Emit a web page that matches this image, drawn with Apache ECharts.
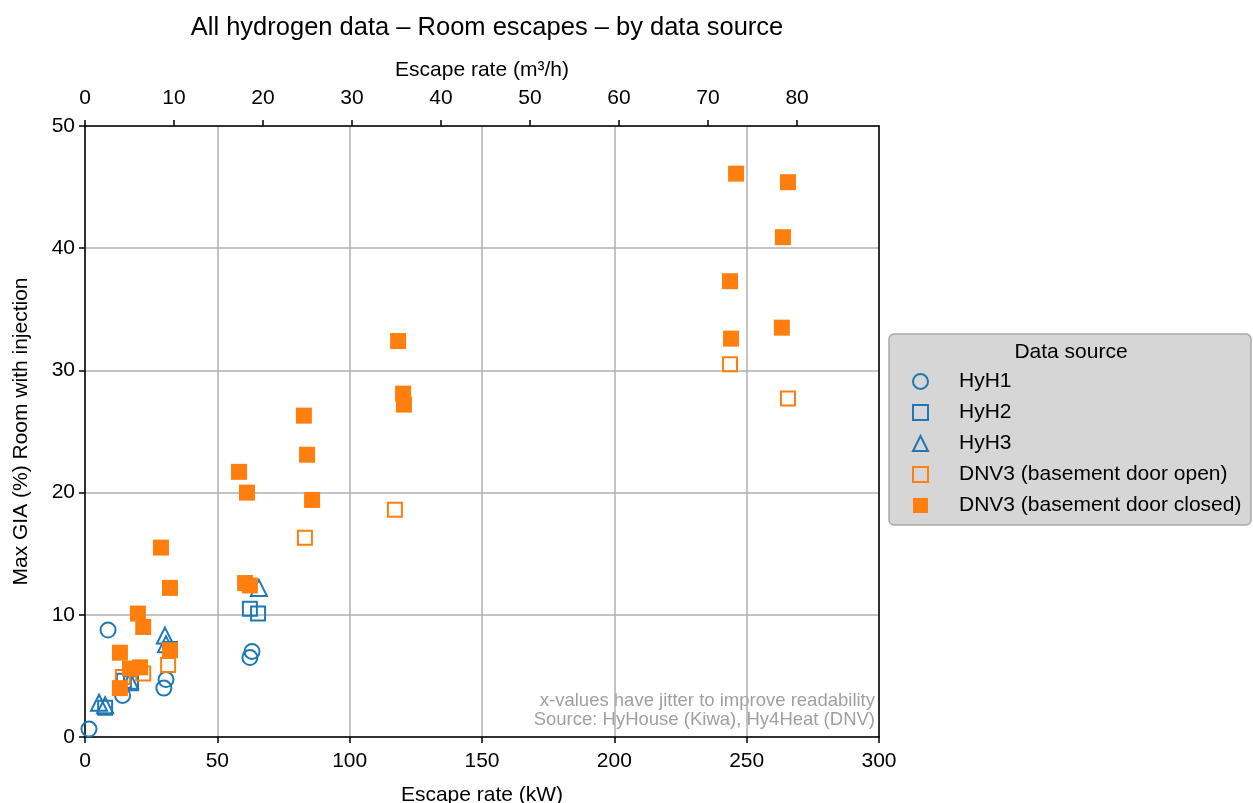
<!DOCTYPE html>
<html>
<head>
<meta charset="utf-8">
<script src="https://cdn.jsdelivr.net/npm/echarts@6/dist/echarts.min.js"></script>
<style>html,body{margin:0;padding:0;background:#fff;}#c{width:1253px;height:803px;}</style>
</head>
<body>
<div id="c"></div>
<script>
// Data: [escape rate kW (jittered), max GIA %]
const hyh1 = [[1.5,0.65],[8.7,8.75],[14.2,3.4],[29.8,4.0],[30.6,4.7],[62.3,6.5],[63.1,7.0]];
const hyh2 = [[7.6,2.4],[14.7,4.6],[17.4,4.4],[32.1,7.2],[62.3,10.5],[65.4,10.1]];
const hyh3 = [[5.3,2.8],[7.6,2.6],[17.0,4.6],[30.2,8.3],[30.6,7.6],[65.7,12.2]];
const dnvOpen = [[14.3,4.9],[22.0,5.2],[31.4,5.9],[83.1,16.3],[117.1,18.6],[243.7,30.5],[265.6,27.7]];
const dnvClosed = [[13.2,6.9],[13.2,4.0],[17.0,5.6],[20.8,5.7],[20.0,10.1],[22.0,9.0],[28.7,15.5],[32.1,12.2],[32.1,7.1],
  [60.5,12.6],[62.3,12.4],[58.2,21.7],[61.2,20.0],[82.7,26.3],[83.9,23.1],[85.8,19.4],[118.3,32.4],[120.2,28.1],[120.5,27.2],
  [246.0,46.1],[265.6,45.4],[263.7,40.9],[243.7,37.3],[244.1,32.6],[263.3,33.5]];
const seriesNames = ['HyH1','HyH2','HyH3','DNV3 (basement door open)','DNV3 (basement door closed)'];
const kwTicks = [0,50,100,150,200,250,300];
const m3hTicks = [0,10,20,30,40,50,60,70,80];
const giaTicks = [0,10,20,30,40,50];
const kWPerM3h = 3.363;

const BLUE = '#1f77b4', ORANGE = '#ff7f0e';
const FONT = '"Liberation Sans", Arial, sans-serif';
const FS = 21;
const chart = echarts.init(document.getElementById('c'), null, {renderer:'canvas'});
const axisLbl = {color:'#000', fontSize:FS, fontFamily:FONT};
const hollow = c => ({color:'rgba(255,255,255,0)', borderColor:c, borderWidth:2, opacity:1});

chart.setOption({
  animation:false,
  backgroundColor:'#fff',
  title:{text:'All hydrogen data – Room escapes – by data source', left:482, top:10, textAlign:'center',
    textStyle:{fontSize:25.5, fontWeight:'normal', color:'#000', fontFamily:FONT}},
  grid:{left:85, right:374, top:126, bottom:66, containLabel:false, outerBoundsMode:'none'},
  xAxis:[
    {type:'value', position:'bottom', min:kwTicks[0], max:kwTicks[kwTicks.length-1], interval:50,
     name:'Escape rate (kW)', nameLocation:'middle', nameGap:48,
     nameTextStyle:{fontSize:FS, color:'#000', fontFamily:FONT},
     axisLine:{lineStyle:{color:'#000', width:1.5}},
     axisTick:{show:true, length:6, lineStyle:{color:'#000', width:1.5}},
     axisLabel:Object.assign({margin:14}, axisLbl),
     splitLine:{show:true, lineStyle:{color:'#b0b0b0', width:1.5}}},
    {type:'value', position:'top', min:0, max:kwTicks[kwTicks.length-1]/kWPerM3h,
     name:'Escape rate (m³/h)', nameLocation:'middle', nameGap:45,
     nameTextStyle:{fontSize:FS, color:'#000', fontFamily:FONT},
     axisLine:{onZero:false, lineStyle:{color:'#000', width:1.5}},
     axisTick:{show:true, length:6, customValues:m3hTicks, lineStyle:{color:'#000', width:1.5}},
     axisLabel:Object.assign({margin:17, customValues:m3hTicks}, axisLbl),
     splitLine:{show:false}}
  ],
  yAxis:[
    {type:'value', min:giaTicks[0], max:giaTicks[giaTicks.length-1], interval:10,
     name:'Max GIA (%) Room with injection', nameLocation:'middle', nameGap:53,
     nameTextStyle:{fontSize:FS, color:'#000', fontFamily:FONT},
     axisLine:{show:true, lineStyle:{color:'#000', width:1.5}},
     axisTick:{show:true, length:6, lineStyle:{color:'#000', width:1.5}},
     axisLabel:Object.assign({margin:10}, axisLbl),
     splitLine:{show:true, lineStyle:{color:'#b0b0b0', width:1.5}}},
    {type:'value', position:'right', min:0, max:50, interval:10,
     axisLine:{show:true, onZero:false, lineStyle:{color:'#000', width:1.5}},
     axisTick:{show:false}, axisLabel:{show:false}, splitLine:{show:false}}
  ],
  legend:{
    orient:'vertical', left:912, top:371, padding:0, itemWidth:15, itemHeight:15, itemGap:10,
    data:seriesNames,
    textStyle:{fontSize:FS, lineHeight:21, color:'#000', fontFamily:FONT, padding:[0,0,0,26]},
    backgroundColor:'transparent'
  },
  graphic:[
    {type:'rect', x:889, y:334, z:-1,
     shape:{width:362, height:191, r:5}, style:{fill:'#d6d6d6', stroke:'#a8a8a8', lineWidth:1.5}},
    {type:'text', x:1071, y:342, style:{text:'Data source', fontSize:FS, fill:'#000', fontFamily:FONT, textAlign:'center'}},
    {type:'text', x:875, y:691, style:{text:'x-values have jitter to improve readability\nSource: HyHouse (Kiwa), Hy4Heat (DNV)', fontSize:18.5, lineHeight:19, fill:'#a0a0a0', fontFamily:FONT, textAlign:'right'}}
  ],
  series:[
    {name:seriesNames[0], type:'scatter', data:hyh1, symbol:'circle', symbolSize:15, itemStyle:hollow(BLUE)},
    {name:seriesNames[1], type:'scatter', data:hyh2, symbol:'rect', symbolSize:14, itemStyle:hollow(BLUE)},
    {name:seriesNames[2], type:'scatter', data:hyh3, symbol:'triangle', symbolSize:16, itemStyle:hollow(BLUE)},
    {name:seriesNames[3], type:'scatter', data:dnvOpen, symbol:'rect', symbolSize:14, itemStyle:hollow(ORANGE)},
    {name:seriesNames[4], type:'scatter', data:dnvClosed, symbol:'rect', symbolSize:16, itemStyle:{color:ORANGE, opacity:1}}
  ]
});
</script>
</body>
</html>
